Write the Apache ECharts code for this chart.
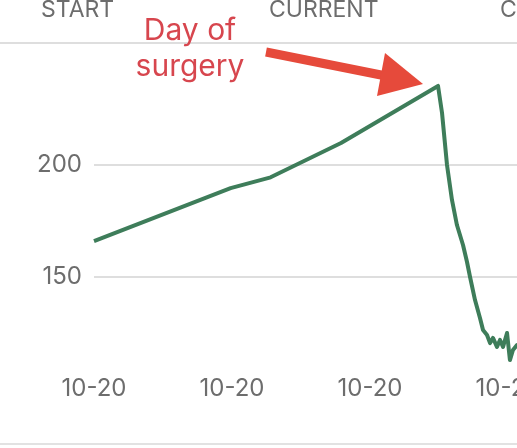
<!DOCTYPE html>
<html>
<head>
<meta charset="utf-8">
<script src="https://cdn.jsdelivr.net/npm/echarts@6/dist/echarts.min.js"></script>
<style>
html,body{margin:0;padding:0;background:#fff;}
#chart{width:517px;height:448px;}
</style>
</head>
<body>
<div id="chart"></div>
<script>
// x positions (in axis-tick units) and values of the trend line
var xValues = [0.00, 0.99, 1.28, 1.79, 2.493, 2.522, 2.558, 2.594, 2.630, 2.674, 2.703, 2.725,
  2.761, 2.797, 2.819, 2.848, 2.870, 2.891, 2.920, 2.942, 2.964, 2.993, 3.014, 3.036, 3.065, 3.087];
var yValues = [166, 189.7, 194.5, 209.8, 235.3, 223.2, 200, 184.4, 173.2, 164.3, 156.7, 150,
  139.7, 131.7, 126.3, 124.1, 120.5, 122.8, 118.8, 121.9, 118.8, 125, 112.9, 117.4, 119.6, 119.6];
var xTickLabel = '10-20';
var yTickLabels = [150, 200];
var headerLabels = ['START', 'CURRENT', 'C'];
var annotationText = 'Day of\nsurgery';

var seriesData = xValues.map(function (x, i) { return [x, yValues[i]]; });
var FONT = 'Inter, Roboto, sans-serif';
var GRAY = '#6d6d6d';

var chart = echarts.init(document.getElementById('chart'), null, {renderer: 'canvas'});
chart.setOption({
  animation: false,
  backgroundColor: '#fff',
  grid: {left: 94, top: 53, width: 441.6, height: 336, containLabel: false, outerBoundsMode: 'none'},
  xAxis: {
    type: 'value', min: 0, max: 3.2, interval: 1, offset: -20,
    axisLine: {show: false}, axisTick: {show: false}, splitLine: {show: false},
    axisLabel: {
      color: GRAY, fontSize: 24, fontFamily: FONT, margin: 8,
      formatter: function (v) { return Math.abs(v - Math.round(v)) < 1e-6 ? xTickLabel : ''; }
    }
  },
  yAxis: {
    type: 'value', min: 100, max: 250, interval: 50,
    axisLine: {show: false}, axisTick: {show: false},
    splitLine: {show: true, showMinLine: false, showMaxLine: false, lineStyle: {color: '#d3d3d3', width: 1.5}},
    axisLabel: {
      color: GRAY, fontSize: 24, fontFamily: FONT, margin: 12,
      formatter: function (v) { return yTickLabels.indexOf(v) >= 0 ? String(v) : ''; }
    }
  },
  series: [{
    type: 'line', data: seriesData, showSymbol: false, symbol: 'none',
    lineStyle: {color: '#3e7d5a', width: 4, join: 'round'}, z: 3
  }],
  graphic: [
    {type: 'line', shape: {x1: 0, y1: 43, x2: 517, y2: 43}, style: {stroke: '#d3d3d3', lineWidth: 1.5}, z: 1},
    {type: 'line', shape: {x1: 0, y1: 444, x2: 517, y2: 444}, style: {stroke: '#d8d8d8', lineWidth: 1.5}, z: 1},
    {type: 'text', x: 41, y: 10, style: {text: headerLabels[0], fill: GRAY, font: '23px ' + FONT, textVerticalAlign: 'middle'}},
    {type: 'text', x: 269, y: 10, style: {text: headerLabels[1], fill: GRAY, font: '23px ' + FONT, textVerticalAlign: 'middle'}},
    {type: 'text', x: 500, y: 10, style: {text: headerLabels[2], fill: GRAY, font: '23px ' + FONT, textVerticalAlign: 'middle'}},
    {type: 'text', x: 190, y: 13, z: 10, style: {text: annotationText, fill: '#d7464e', font: '30px ' + FONT, textAlign: 'center', textVerticalAlign: 'top', lineHeight: 36}},
    {type: 'line', z: 10, shape: {x1: 266, y1: 52, x2: 386, y2: 76}, style: {stroke: '#e64a3b', lineWidth: 9}},
    {type: 'polygon', z: 10, shape: {points: [[385, 53], [423, 84], [377, 96]]}, style: {fill: '#e64a3b'}}
  ]
});
</script>
</body>
</html>
